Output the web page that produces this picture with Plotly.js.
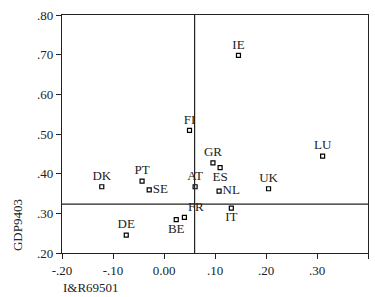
<!DOCTYPE html>
<html><head><meta charset="utf-8">
<script src="https://cdn.plot.ly/plotly-3.0.1.min.js"></script>
<style>html,body{margin:0;padding:0;background:#fff}#c{width:375px;height:297px}</style>
</head><body><div id="c"></div>
<script>
const countries = ["IE","FI","LU","GR","ES","AT","NL","UK","IT","FR","BE","DK","PT","SE","DE"];
const rdGrowth  = [0.146,0.050,0.311,0.096,0.110,0.061,0.108,0.205,0.132,0.040,0.024,-0.122,-0.043,-0.029,-0.074];
const gdpGrowth = [0.698,0.509,0.444,0.427,0.415,0.367,0.356,0.362,0.313,0.290,0.284,0.367,0.381,0.359,0.245];
const labelPos  = ["top center","top center","top center","top center","bottom center","top center","middle right","top center","bottom center","top right","bottom center","top center","top center","middle right","top center"];
const refX = 0.06, refY = 0.323;
const xTickVals = [-0.2,-0.1,0,0.1,0.2,0.3,0.4];
const xTickText = ["-.20","-.10","0.00",".10",".20",".30",".40"];
const yTickVals = [0.2,0.3,0.4,0.5,0.6,0.7,0.8];
const yTickText = [".20",".30",".40",".50",".60",".70",".80"];

const font = {family:"Liberation Serif, Times New Roman, serif", size:13, color:"#222"};
const trace = {
  x: rdGrowth, y: gdpGrowth, text: countries, mode:"markers+text", type:"scatter",
  textposition: labelPos, textfont: font,
  marker:{symbol:"square-open", size:4, color:"#000", line:{width:1.2,color:"#000"}},
  cliponaxis:false, hoverinfo:"none"
};
const layout = {
  width:375, height:297, showlegend:false,
  margin:{l:62,r:7,t:15,b:44},
  paper_bgcolor:"#fff", plot_bgcolor:"#fff", font:font,
  xaxis:{range:[-0.2,0.4], tickvals:xTickVals, ticktext:xTickText, showgrid:false, zeroline:false,
    showline:true, mirror:true, linecolor:"#222", linewidth:1.2, ticks:"outside", ticklen:5, tickcolor:"#222"},
  yaxis:{range:[0.2,0.8], tickvals:yTickVals, ticktext:yTickText, showgrid:false, zeroline:false,
    showline:true, mirror:true, linecolor:"#222", linewidth:1.2, ticks:"outside", ticklen:5, tickcolor:"#222"},
  shapes:[
    {type:"line", xref:"x", yref:"paper", x0:refX, x1:refX, y0:0, y1:1, line:{color:"#222", width:1.2}},
    {type:"line", xref:"paper", yref:"y", x0:0, x1:1, y0:refY, y1:refY, line:{color:"#222", width:1.2}}
  ],
  annotations:[
    {text:"GDP9403", xref:"paper", yref:"paper", x:-0.147, y:0, xanchor:"center", yanchor:"bottom", textangle:-90, showarrow:false, font:font},
    {text:"I&R69501", xref:"paper", yref:"paper", x:0, y:-0.11, xanchor:"left", yanchor:"top", showarrow:false, borderpad:0, font:font}
  ]
};
Plotly.newPlot("c",[trace],layout,{staticPlot:true,displayModeBar:false});
</script></body></html>
